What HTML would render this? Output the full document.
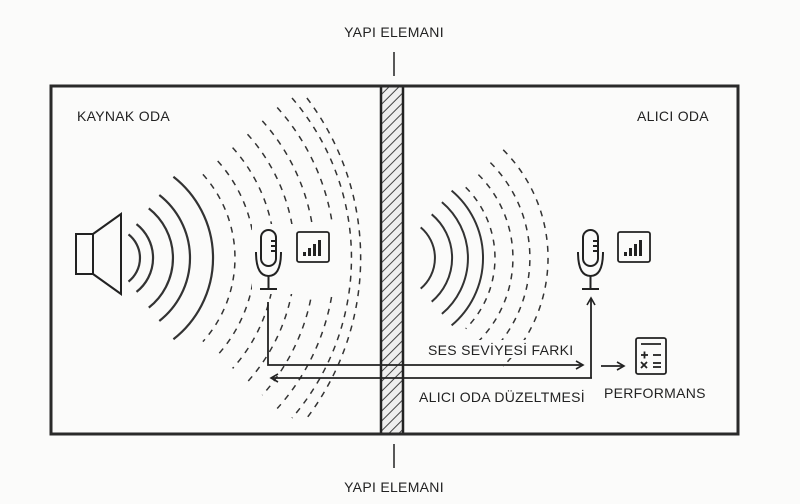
<!DOCTYPE html>
<html><head><meta charset="utf-8"><style>
html,body{margin:0;padding:0;background:#fbfbfa;}
svg{display:block}
text{font-family:"Liberation Sans",sans-serif;font-size:14px;fill:#222;letter-spacing:0.3px}
</style></head><body>
<svg width="800" height="504" viewBox="0 0 800 504" xmlns="http://www.w3.org/2000/svg">
<defs>
<pattern id="h" width="7" height="7" patternUnits="userSpaceOnUse" patternTransform="rotate(45)">
<rect width="7" height="7" fill="#eee"/><line x1="0" y1="0" x2="0" y2="7" stroke="#444" stroke-width="2"/></pattern>
<marker id="a" markerWidth="10" markerHeight="10" refX="8" refY="5" orient="auto" markerUnits="userSpaceOnUse">
<path d="M1 1 L8 5 L1 9" fill="none" stroke="#222" stroke-width="1.6"/></marker>
</defs>
<rect width="800" height="504" fill="#fbfbfa"/>
<!-- wall -->
<rect x="381" y="86" width="22" height="348" fill="url(#h)" stroke="#222" stroke-width="2.5"/>
<!-- outer box -->
<rect x="51" y="86" width="687" height="348" fill="none" stroke="#2a2a2a" stroke-width="3"/>
<line x1="394" y1="52" x2="394" y2="76" stroke="#222" stroke-width="1.5"/>
<line x1="394" y1="444" x2="394" y2="468" stroke="#222" stroke-width="1.5"/>
<text x="394" y="37" text-anchor="middle">YAPI ELEMANI</text>
<text x="394" y="492" text-anchor="middle">YAPI ELEMANI</text>
<text x="77" y="121">KAYNAK ODA</text>
<text x="637" y="121">ALICI ODA</text>
<!-- speaker -->
<g fill="none" stroke="#222" stroke-width="2">
<rect x="76" y="234" width="17" height="40"/>
<path d="M93 234 L121 214 L121 294 L93 274"/>
</g>
<g fill="none" stroke="#333" stroke-width="2.2">
<path d="M128.5 234.4 A30 30 0 0 1 128.5 281.6"/>
<path d="M136.5 224.1 A43 43 0 0 1 136.5 291.9"/>
<path d="M148.8 208.4 A63 63 0 0 1 148.8 307.6"/>
<path d="M159.3 195 A80 80 0 0 1 159.3 321"/>
<path d="M173.4 176.8 A103 103 0 0 1 173.4 339.2"/>
</g>
<g fill="none" stroke="#333" stroke-width="1.5" stroke-dasharray="6 6">
<path d="M202.9 174.4 A125 125 0 0 1 202.9 341.6"/>
<path d="M217.7 161 A145 145 0 0 1 217.7 355"/>
<path d="M232.6 147.6 A165 165 0 0 1 232.6 368.4"/>
<path d="M247.5 134.2 A185 185 0 0 1 247.5 381.8"/>
<path d="M262.3 120.9 A205 205 0 0 1 262.3 395.1"/>
<path d="M277.2 107.5 A225 225 0 0 1 277.2 408.5"/>
<path d="M292 98 A245 245 0 0 1 292 418"/>
<path d="M306.9 98 A265 265 0 0 1 306.9 418"/>
</g>
<!-- right waves -->
<g fill="none" stroke="#333" stroke-width="2">
<path d="M420.7 227.4 A40 40 0 0 1 420.7 288.6"/>
<path d="M431.7 214.3 A57 57 0 0 1 431.7 301.7"/>
<path d="M441.9 202.1 A73 73 0 0 1 441.9 313.9"/>
<path d="M451.6 190.6 A88 88 0 0 1 451.6 325.4"/>
</g>
<g fill="none" stroke="#333" stroke-width="1.5" stroke-dasharray="6 6">
<path d="M465.7 187.3 A100 100 0 0 1 465.7 328.7"/>
<path d="M478.4 174.6 A118 118 0 0 1 478.4 341.4"/>
<path d="M490.4 162.6 A135 135 0 0 1 490.4 353.4"/>
<path d="M503.2 149.8 A153 153 0 0 1 503.2 366.2"/>
</g>
<!-- left mic + chart -->
<g fill="#fbfbfa" stroke="none"><rect x="252" y="224" width="84" height="70"/><rect x="424" y="340" width="150" height="18"/></g>
<g fill="none" stroke="#222" stroke-width="2">
<rect x="261" y="230" width="15" height="36" rx="7.5"/>
<path d="M256 252 Q256 276 268.5 276 Q281 276 281 252"/>
<line x1="268.5" y1="276" x2="268.5" y2="289"/><line x1="260" y1="289" x2="277" y2="289"/>
<line x1="271" y1="241" x2="276" y2="241"/><line x1="271" y1="246" x2="276" y2="246"/><line x1="271" y1="251" x2="276" y2="251"/>
<rect x="297" y="232" width="32" height="30" rx="2" stroke-width="1.8"/>
</g>
<g fill="#222"><rect x="303" y="252" width="3" height="4"/><rect x="308" y="248" width="3" height="8"/><rect x="313" y="244" width="3" height="12"/><rect x="318" y="240" width="3" height="16"/></g>
<!-- right mic + chart -->
<g fill="none" stroke="#222" stroke-width="2">
<rect x="583" y="230" width="15" height="36" rx="7.5"/>
<path d="M578 252 Q578 276 590.5 276 Q603 276 603 252"/>
<line x1="590.5" y1="276" x2="590.5" y2="289"/><line x1="582" y1="289" x2="599" y2="289"/>
<line x1="593" y1="241" x2="598" y2="241"/><line x1="593" y1="246" x2="598" y2="246"/><line x1="593" y1="251" x2="598" y2="251"/>
<rect x="618" y="232" width="32" height="30" rx="2" stroke-width="1.8"/>
</g>
<g fill="#222"><rect x="624" y="252" width="3" height="4"/><rect x="629" y="248" width="3" height="8"/><rect x="634" y="244" width="3" height="12"/><rect x="639" y="240" width="3" height="16"/></g>
<!-- connectors -->
<g fill="none" stroke="#222" stroke-width="1.8">
<path d="M268 302 L268 365 L583 365" marker-end="url(#a)"/>
<path d="M592 378 L271 378" marker-end="url(#a)"/>
<path d="M591 378 L591 298" marker-end="url(#a)"/>
<path d="M601 366 L624 366" marker-end="url(#a)"/>
</g>
<text x="428" y="355">SES SEVİYESİ FARKI</text>
<text x="419" y="402">ALICI ODA DÜZELTMESİ</text>
<text x="604" y="398">PERFORMANS</text>
<!-- calculator -->
<g fill="none" stroke="#222" stroke-width="1.8">
<rect x="636" y="338" width="30" height="36" rx="2"/>
<line x1="641" y1="344" x2="661" y2="344"/>
<line x1="641" y1="355" x2="648" y2="355"/><line x1="644.5" y1="351.5" x2="644.5" y2="358.5"/>
<line x1="653" y1="355" x2="661" y2="355"/>
<line x1="641" y1="362" x2="647" y2="368"/><line x1="647" y1="362" x2="641" y2="368"/>
<line x1="653" y1="363" x2="661" y2="363"/><line x1="653" y1="367" x2="661" y2="367"/>
</g>
</svg>
</body></html>
